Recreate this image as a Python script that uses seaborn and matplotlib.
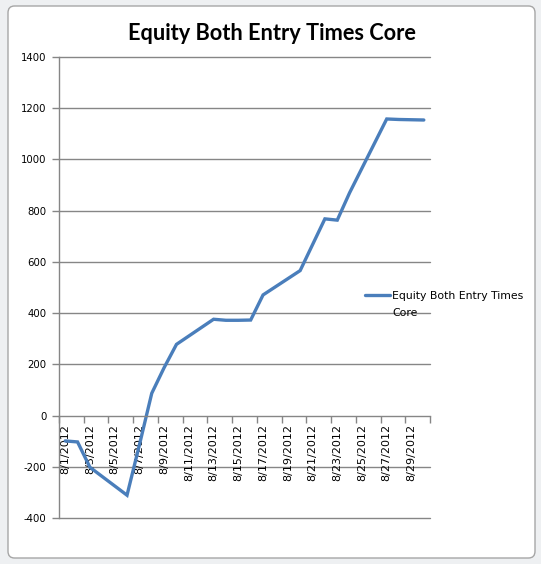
import matplotlib
matplotlib.use("Agg")
import matplotlib.pyplot as plt
from matplotlib.patches import FancyBboxPatch
import seaborn as sns
import pandas as pd

title = "Equity Both Entry Times Core"
series_name = "Equity Both Entry Times Core"
dates = ["2012-08-01", "2012-08-02", "2012-08-03", "2012-08-06", "2012-08-07",
         "2012-08-08", "2012-08-09", "2012-08-10", "2012-08-13", "2012-08-14",
         "2012-08-15", "2012-08-16", "2012-08-17", "2012-08-20", "2012-08-21",
         "2012-08-22", "2012-08-23", "2012-08-24", "2012-08-27", "2012-08-28",
         "2012-08-29", "2012-08-30"]
equity = [-99, -103, -202, -311, -115, 87, 187, 278, 376, 372, 372, 373, 471,
          566, 667, 768, 763, 870, 1158, 1156, 1155, 1154]
y_ticks = [-400, -200, 0, 200, 400, 600, 800, 1000, 1200, 1400]
label_dates = pd.date_range("2012-08-01", "2012-08-29", freq="2D")

df = pd.DataFrame({"date": pd.to_datetime(dates), "equity": equity})

sns.set_theme(style="white")
plt.rcParams["font.family"] = ["DejaVu Sans"]
plt.rcParams["text.color"] = "black"
plt.rcParams["xtick.color"] = "black"
plt.rcParams["ytick.color"] = "black"

fig = plt.figure(figsize=(5.41, 5.64), dpi=100, facecolor="#eef0f2")
frame = FancyBboxPatch((8 / 541, 6 / 564), 527 / 541, 552 / 564,
                       boxstyle="round,pad=0,rounding_size=0.012",
                       transform=fig.transFigure, facecolor="white",
                       edgecolor="#a6a6a6", linewidth=1.0, zorder=-5)
fig.patches.append(frame)

ax = fig.add_axes([59 / 541, 1 - 518 / 564, 371 / 541, 461 / 564])
ax.set_zorder(2)
ax.set_facecolor("none")

line_color = "#4a7ebb"
first_line, second_line = "Equity Both Entry Times", "Core"
sns.lineplot(data=df, x="date", y="equity", ax=ax, color=line_color,
             linewidth=2.4, label=first_line, solid_joinstyle="miter")

ax.set_ylim(-400, 1400)
ax.set_yticks(y_ticks)
ax.set_yticklabels([str(v) for v in y_ticks])

start = pd.Timestamp("2012-07-31 12:00")
end = pd.Timestamp("2012-08-30 12:00")
ax.set_xlim(start, end)
minor = pd.date_range(start, end, freq="2D")
ax.set_xticks(minor, minor=True)
ax.set_xticks(label_dates)
ax.set_xticklabels([f"{d.month}/{d.day}/{d.year}" for d in label_dates])

for yv in y_ticks:
    if yv != 0:
        ax.axhline(yv, color="#868686", linewidth=1.0, zorder=0, clip_on=False)

for s in ["top", "right"]:
    ax.spines[s].set_visible(False)
ax.spines["left"].set_color("#868686")
ax.spines["bottom"].set_color("#868686")
ax.spines["left"].set_linewidth(1.0)
ax.spines["bottom"].set_linewidth(1.0)
ax.spines["bottom"].set_position(("data", 0))

ax.tick_params(axis="y", which="major", direction="out", length=5, width=1,
               color="#868686", pad=4, left=True, labelcolor="black",
               labelsize=7.3)
ax.tick_params(axis="x", which="major", length=0, pad=6, bottom=True,
               labelcolor="black", labelsize=8, labelrotation=90)
ax.tick_params(axis="x", which="minor", direction="out", length=5, width=1,
               color="#868686", bottom=True)
ax.set_xlabel("")
ax.set_ylabel("")
for lab in ax.get_xticklabels():
    lab.set_va("top")
    lab.set_ha("center")

fig.text(272 / 541, 1 - 33 / 564, title, ha="center", va="center",
         fontsize=15.7, fontweight="bold", color="black",
         family=["Lato", "DejaVu Sans"])

leg = ax.legend(loc="center left", bbox_to_anchor=(365 / 541, 1 - 296 / 564),
                bbox_transform=fig.transFigure, frameon=False, fontsize=7.8,
                handlelength=2.3, handletextpad=0.15, borderaxespad=0,
                borderpad=0)
for t in leg.get_texts():
    t.set_color("black")
fig.text(392 / 541, 1 - 313 / 564, second_line, ha="left", va="center",
         fontsize=7.8, color="black")

fig.savefig("out.png", dpi=100, facecolor=fig.get_facecolor())
